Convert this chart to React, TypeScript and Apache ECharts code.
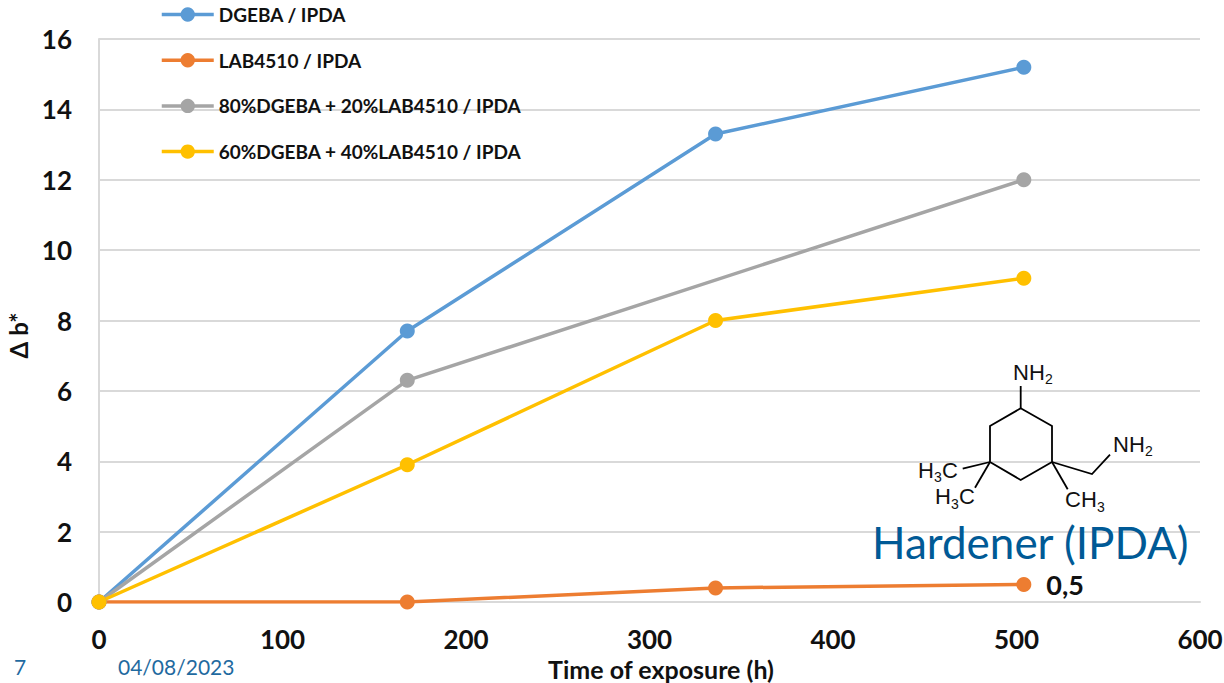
import React, { useEffect, useRef } from "react";
import * as echarts from "echarts";

const seriesNames = ["DGEBA / IPDA", "LAB4510 / IPDA", "80%DGEBA + 20%LAB4510 / IPDA", "60%DGEBA + 40%LAB4510 / IPDA"];
const dgeba = [[0, 0], [168, 7.7], [336, 13.3], [504, 15.2]];
const lab = [[0, 0], [168, 0], [336, 0.4], [504, 0.5]];
const mix80 = [[0, 0], [168, 6.3], [504, 12]];
const mix60 = [[0, 0], [168, 3.9], [336, 8], [504, 9.2]];
const colors = ["#5B9BD5", "#ED7D31", "#A5A5A5", "#FFC000"];
const FONT = "Lato, Carlito, sans-serif";
const CHEM = "'Liberation Sans', Arial, sans-serif";

const bonds = [
  [[1020.7, 386], [1020.7, 408.3]],
  [[1020.7, 408.3], [1052, 426], [1052, 462], [1020.7, 480], [990, 462], [990, 426], [1020.7, 408.3]],
  [[1052, 462], [1092, 474], [1110, 454.7]],
  [[1052, 462], [1067.7, 489.3]],
  [[990, 462], [962.7, 468.7]],
  [[990, 462], [975, 487.7]],
];
// [text, left x, baseline y, font size]
const chemTexts: [string, number, number, number][] = [
  ["NH", 1013, 383, 22], ["2", 1045, 386, 14],
  ["NH", 1113, 455, 22], ["2", 1145, 458, 14],
  ["H", 918, 481, 22], ["3", 934, 484, 14], ["C", 942, 481, 22],
  ["H", 935, 507, 22], ["3", 951, 511, 14], ["C", 959, 507, 22],
  ["CH", 1065, 510, 22], ["3", 1097, 514, 14],
];

const mkSeries = (i: number, data: number[][], extra: any = {}) => ({
  name: seriesNames[i],
  type: "line",
  data,
  symbol: "circle",
  symbolSize: 15,
  lineStyle: { color: colors[i], width: 3.5 },
  itemStyle: { color: colors[i] },
  ...extra,
});

export default function App() {
  const ref = useRef<HTMLDivElement>(null);
  useEffect(() => {
    document.body.style.margin = "0";
    const chart = echarts.init(ref.current!, undefined, { renderer: "svg" });
    const graphic: any[] = [
      ...bonds.map((pts) => ({
        type: "polyline",
        shape: { points: pts },
        style: { stroke: "#000", lineWidth: 1.8, fill: "none" },
        z: 20,
      })),
      ...chemTexts.map(([text, x, y, size]) => ({
        type: "text",
        x,
        y,
        style: { text, fontFamily: CHEM, fontSize: size, fill: "#111", verticalAlign: "bottom" },
        z: 20,
      })),
      {
        type: "text",
        x: 872,
        y: 520,
        style: { text: "Hardener (IPDA)", fontFamily: FONT, fontSize: 44, fill: "#005A96" },
        z: 20,
      },
      { type: "text", x: 14, y: 656, style: { text: "7", fontFamily: FONT, fontSize: 21, fill: "#1F6AA0" }, z: 20 },
      { type: "text", x: 118, y: 656, style: { text: "04/08/2023", fontFamily: FONT, fontSize: 21, fill: "#1F6AA0" }, z: 20 },
    ];
    chart.setOption({
      animation: false,
      color: colors,
      grid: { left: 99, right: 24, top: 39, height: 563, outerBoundsMode: "none" },
      legend: {
        show: true,
        orient: "vertical",
        left: 155,
        top: 0,
        itemWidth: 52,
        itemHeight: 18,
        itemGap: 26.7,
        data: seriesNames,
        lineStyle: { width: 3.5 },
        textStyle: { fontFamily: FONT, fontWeight: "bold", fontSize: 19, color: "#111" },
      },
      xAxis: {
        type: "value",
        min: 0,
        max: 600,
        interval: 100,
        name: "Time of exposure (h)",
        nameLocation: "middle",
        nameGap: 54,
        nameTextStyle: { fontFamily: FONT, fontWeight: "bold", fontSize: 25, color: "#111", padding: [0, 0, 0, 23] },
        axisLine: { show: true, lineStyle: { color: "#D9D9D9", width: 2 } },
        axisTick: { show: false },
        axisLabel: { fontFamily: FONT, fontWeight: "bold", fontSize: 26, color: "#111", margin: 24 },
        splitLine: { show: false },
      },
      yAxis: {
        type: "value",
        min: 0,
        max: 16,
        interval: 2,
        name: "Δ b*",
        nameLocation: "middle",
        nameGap: 68,
        nameTextStyle: { fontFamily: FONT, fontWeight: "bold", fontSize: 24, color: "#111", padding: [56, 30, 0, 0] },
        axisLine: { show: true, lineStyle: { color: "#D9D9D9", width: 2 } },
        axisTick: { show: false },
        axisLabel: { fontFamily: FONT, fontWeight: "bold", fontSize: 26, color: "#111", margin: 27 },
        splitLine: { show: true, lineStyle: { color: "#D9D9D9", width: 2 } },
      },
      series: [
        mkSeries(0, dgeba),
        mkSeries(1, lab, {
          label: {
            show: true,
            position: "right",
            distance: 15,
            fontFamily: FONT,
            fontWeight: "bold",
            fontSize: 27,
            color: "#111",
            formatter: (p: any) => (p.dataIndex === lab.length - 1 ? String(p.value[1]).replace(".", ",") : ""),
          },
        }),
        mkSeries(2, mix80),
        mkSeries(3, mix60),
      ],
      graphic,
    });
    return () => chart.dispose();
  }, []);
  return <div ref={ref} style={{ width: 1224, height: 683 }} />;
}
